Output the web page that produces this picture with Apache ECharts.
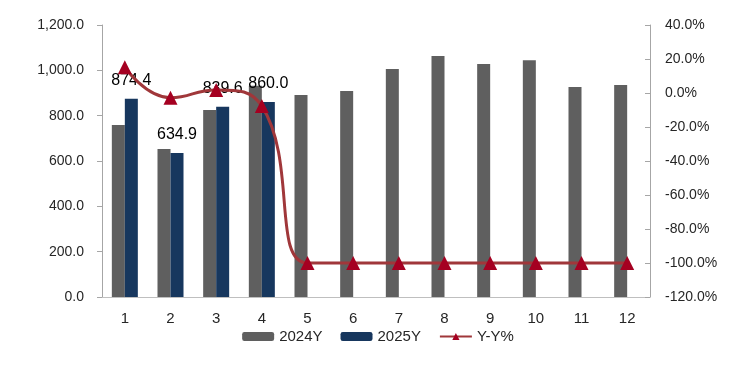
<!DOCTYPE html>
<html>
<head>
<meta charset="utf-8">
<script src="https://cdn.jsdelivr.net/npm/echarts@6/dist/echarts.min.js"></script>
<style>html,body{margin:0;padding:0;background:#fff}#c{width:756px;height:370px}</style>
</head>
<body>
<div id="c"></div>
<script>
var categories = ['1','2','3','4','5','6','7','8','9','10','11','12'];
var values2024 = [759, 653, 825, 932, 891, 909, 1006, 1063, 1028, 1045, 926, 935];
var values2025 = [874.4, 634.9, 839.6, 860.0];
var yoy = [15.2, -2.8, 1.8, -7.7, -100, -100, -100, -100, -100, -100, -100, -100];

var font = 'Liberation Sans, Arial, sans-serif';
var chart = echarts.init(document.getElementById('c'));
chart.setOption({
  animation: false,
  backgroundColor: '#fff',
  grid: {left: 102, right: 106, top: 25, bottom: 73},
  legend: {
    bottom: 21, left: 'center', itemWidth: 32, itemHeight: 9, itemGap: 18,
    textStyle: {fontFamily: font, fontSize: 15, color: '#262626'},
    data: ['2024Y', '2025Y', 'Y-Y%']
  },
  xAxis: {
    type: 'category', data: categories,
    axisLine: {lineStyle: {color: '#bfbfbf'}},
    axisTick: {show: false},
    axisLabel: {fontFamily: font, fontSize: 15, color: '#262626', margin: 14}
  },
  yAxis: [{
    type: 'value', min: 0, max: 1200, interval: 200,
    axisLine: {show: true, lineStyle: {color: '#a6a6a6'}},
    axisTick: {show: true, length: 5, lineStyle: {color: '#a6a6a6'}},
    splitLine: {show: false},
    axisLabel: {fontFamily: font, fontSize: 14, color: '#262626', margin: 18,
      formatter: function(v){ return v.toLocaleString('en-US',{minimumFractionDigits:1,maximumFractionDigits:1}); }}
  }, {
    type: 'value', min: -120, max: 40, interval: 20,
    axisLine: {show: true, lineStyle: {color: '#a6a6a6'}},
    axisTick: {show: true, inside: true, length: 5, lineStyle: {color: '#a6a6a6'}},
    splitLine: {show: false},
    axisLabel: {fontFamily: font, fontSize: 14, color: '#262626', margin: 15,
      formatter: function(v){ return v.toFixed(1) + '%'; }}
  }],
  series: [{
    name: '2024Y', type: 'bar', data: values2024, barWidth: 13, barGap: '0%',
    itemStyle: {color: '#5f5f5f'}
  }, {
    name: '2025Y', type: 'bar', data: values2025, barWidth: 13,
    itemStyle: {color: '#17375e'},
    label: {show: true, position: 'top', distance: 10, fontFamily: font, fontSize: 16, color: '#000',
      formatter: function(p){ return p.value.toFixed(1); }}
  }, {
    name: 'Y-Y%', type: 'line', yAxisIndex: 1, data: yoy, smooth: 0.5,
    symbol: 'triangle', symbolSize: 14,
    lineStyle: {color: '#a0373a', width: 3},
    itemStyle: {color: '#a50021'}
  }]
});
</script>
</body>
</html>
